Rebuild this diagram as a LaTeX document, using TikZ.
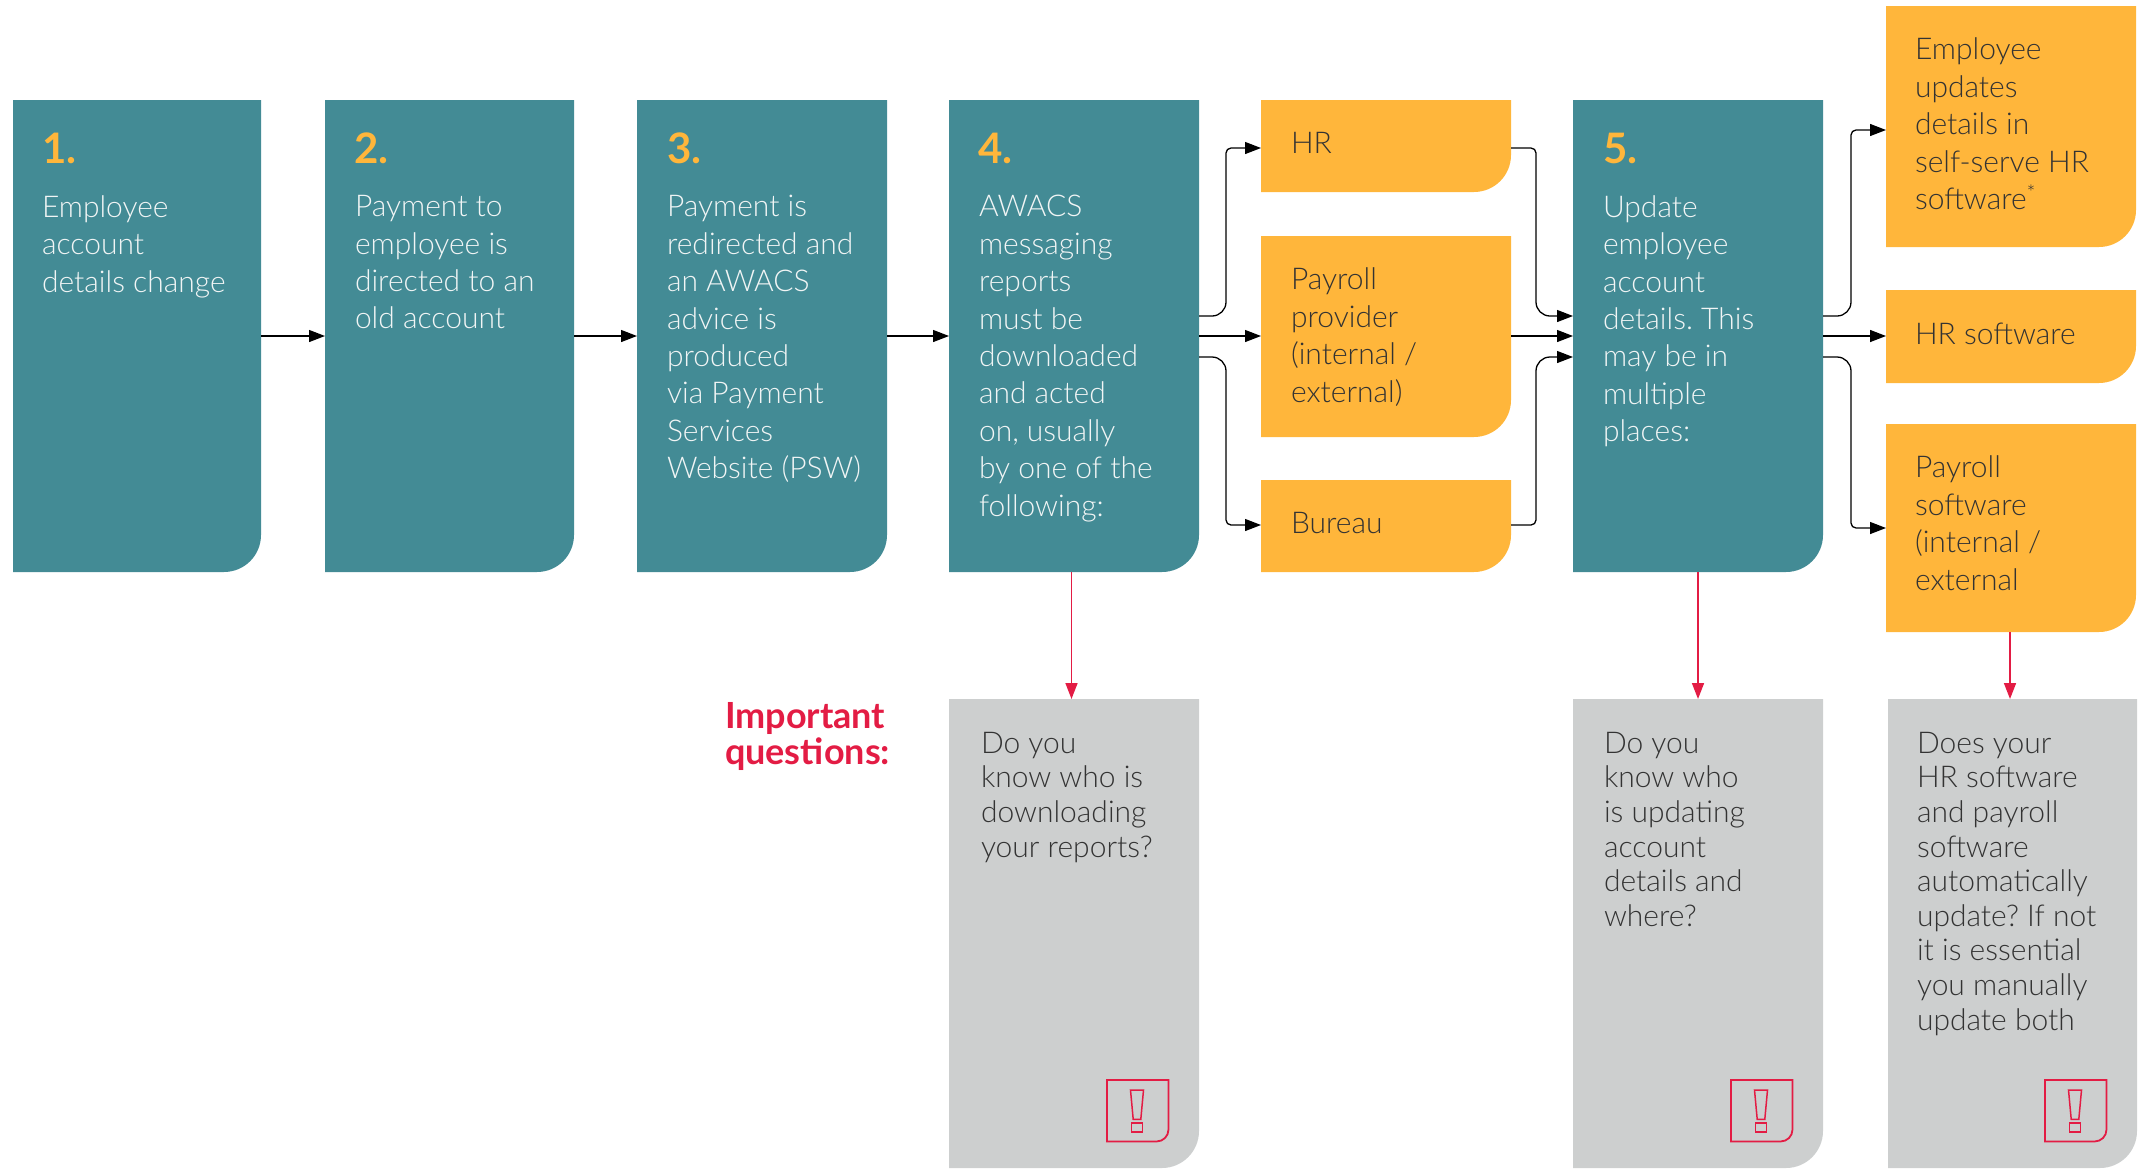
\documentclass[tikz,border=0pt]{standalone}
\usepackage{fontspec}
\setmainfont{Lato}[UprightFont=* Light,BoldFont=* Bold]
\usetikzlibrary{arrows.meta}
\definecolor{teal1}{HTML}{438B95}
\definecolor{orange1}{HTML}{FFB63B}
\definecolor{grey1}{HTML}{CDCFCF}
\definecolor{red1}{HTML}{E31C44}
\definecolor{ink}{HTML}{333333}
\definecolor{pale}{HTML}{F1F5F5}
\tikzset{
 x=1pt,y=1pt,
 anch/.style={inner sep=0,outer sep=0,anchor=north west},
 txt/.style={inner sep=0,outer sep=0,anchor=north west,align=left,font=\frenchspacing\fontsize{30}{37.4}\selectfont},
 ttxt/.style={txt,text=pale},
 otxt/.style={txt,text=ink},
 gtxt/.style={inner sep=0,outer sep=0,anchor=north west,align=left,text=ink,font=\frenchspacing\fontsize{30}{34.6}\selectfont},
 num/.style={inner sep=0,outer sep=0,anchor=north west,text=orange1,font=\fontsize{42}{42}\bfseries\selectfont},
 conn/.style={black,line width=1.3pt,-{Triangle[length=16pt,width=12pt]}},
 redconn/.style={red1,line width=1.6pt,-{Triangle[length=16pt,width=12pt]}},
 iconline/.style={red1,line width=1.8pt},
 iconmark/.style={red1,line width=1.5pt},
}
\newcommand{\rbox}[6]{%
 \node[anch,minimum width={(#4-#2)*1pt},minimum height={(#5-#3)*1pt}] (#1) at (#2,-#3) {};
 \fill[#6] (#1.north west) -- (#1.north east) -- ([yshift=37pt]#1.south east)
   arc[start angle=0,end angle=-90,radius=37pt] -- (#1.south west) -- cycle;
}
\newcommand{\warnicon}[1]{%
 \begin{scope}[shift={(#1.south east)},xshift=-93pt,yshift=26pt]
 \draw[iconline] (1,62) -- (62.5,62) -- (62.5,12.5) arc[start angle=0,end angle=-90,radius=12] -- (1,0.5) -- cycle;
 \draw[iconmark] (24.5,52) -- (37.5,52) -- (34.8,22.7) -- (27.2,22.7) -- cycle;
 \draw[iconmark] (25.5,10) rectangle (36.5,19.2);
 \end{scope}
}
\begin{document}
\begin{tikzpicture}
\useasboundingbox (0,0) rectangle (2145,-1168);
\rbox{tA}{13}{100}{261}{572}{teal1}
\rbox{tB}{325}{100}{574}{572}{teal1}
\rbox{tC}{637}{100}{887}{572}{teal1}
\rbox{tD}{949}{100}{1199}{572}{teal1}
\rbox{tE}{1573}{100}{1823}{572}{teal1}
\rbox{oHR}{1261}{100}{1511}{192}{orange1}
\rbox{oPP}{1261}{236}{1511}{437}{orange1}
\rbox{oBU}{1261}{480}{1511}{572}{orange1}
\rbox{oEM}{1886}{6}{2136}{247}{orange1}
\rbox{oHS}{1886}{290}{2136}{383}{orange1}
\rbox{oPS}{1886}{424}{2136}{632}{orange1}
\rbox{gA}{949}{699}{1199}{1168}{grey1}
\rbox{gB}{1573}{699}{1823}{1168}{grey1}
\rbox{gC}{1888}{699}{2137}{1168}{grey1}
% numbers
\node[num] (nA) at (42,-133) {1.};
\node[num] (nB) at (354,-133) {2.};
\node[num] (nC) at (667,-133) {3.};
\node[num] (nD) at (978,-133) {4.};
\node[num] (nE) at (1603,-133) {5.};
% teal text
\node[ttxt] (xA) at (42,-195.5) {Employee\\account\\details change};
\node[ttxt] (xB) at (355,-195.5) {Payment to\\employee is\\directed to an\\old account};
\node[ttxt] (xC) at (667,-195.5) {Payment is\\redirected and\\an AWACS\\advice is\\produced\\via Payment\\Services\\Website (PSW)};
\node[ttxt] (xD) at (979,-195.5) {AWACS\\messaging\\reports\\must be\\downloaded\\and acted\\on, usually\\by one of the\\following:};
\node[ttxt] (xE) at (1603,-195.5) {Update\\employee\\account\\details. This\\may be in\\multiple\\places:};
% orange text
\node[otxt] (yHR) at (1291,-132.5) {HR};
\node[otxt] (yPP) at (1291,-268) {Payroll\\provider\\(internal /\\external)};
\node[otxt] (yBU) at (1291,-512.5) {Bureau};
\node[otxt] (yEM) at (1915,-38) {Employee\\updates\\details in\\self-serve HR\\software\textsuperscript{*}};
\node[otxt] (yHS) at (1915,-322.5) {HR software};
\node[otxt] (yPS) at (1915,-456) {Payroll\\software\\(internal /\\external};
% grey text
\node[gtxt] (zA) at (981,-732) {Do you\\know who is\\downloading\\your reports?};
\node[gtxt] (zB) at (1604,-732) {Do you\\know who\\is updating\\account\\details and\\where?};
\node[gtxt] (zC) at (1917,-732) {Does your\\HR software\\and payroll\\software\\automatically\\update? If not\\it is essential\\you manually\\update both};
\node[inner sep=0,outer sep=0,anchor=north west,align=left,text=red1,font=\fontsize{36}{36}\bfseries\selectfont] (iq) at (725,-702) {Important\\questions:};
\warnicon{gA}
\warnicon{gB}
\warnicon{gC}
% free ends on the box sides
\coordinate (dU) at (1199,-316); \coordinate (dM) at (1199,-336); \coordinate (dL) at (1199,-357);
\coordinate (eU) at (1573,-316); \coordinate (eM) at (1573,-336); \coordinate (eL) at (1573,-357);
\coordinate (fU) at (1823,-316); \coordinate (fM) at (1823,-336); \coordinate (fL) at (1823,-357);
\coordinate (hrL) at (1261,-148); \coordinate (hrR) at (1511,-148);
\coordinate (ppL) at (1261,-336); \coordinate (ppR) at (1511,-336);
\coordinate (buL) at (1261,-525); \coordinate (buR) at (1511,-525);
\coordinate (emL) at (1886,-130); \coordinate (hsL) at (1886,-336); \coordinate (psL) at (1886,-528);
\coordinate (aM) at (261,-336); \coordinate (bL) at (325,-336); \coordinate (bM) at (574,-336);
\coordinate (cL) at (637,-336); \coordinate (cM) at (887,-336); \coordinate (dI) at (949,-336);
% straight arrows
\draw[conn] (aM) -- (bL);
\draw[conn] (bM) -- (cL);
\draw[conn] (cM) -- (dI);
\draw[conn] (dM) -- (ppL);
\draw[conn] (ppR) -- (eM);
\draw[conn] (fM) -- (hsL);
% elbows
\draw[conn,rounded corners=14pt] (dU) -- (1226,-316) [rounded corners=5pt] -- (1226,-148) -- (hrL);
\draw[conn,rounded corners=14pt] (dL) -- (1226,-357) [rounded corners=5pt] -- (1226,-525) -- (buL);
\draw[conn,rounded corners=5pt] (hrR) -- (1536,-148) [rounded corners=14pt] -- (1536,-316) -- (eU);
\draw[conn,rounded corners=5pt] (buR) -- (1536,-525) [rounded corners=14pt] -- (1536,-357) -- (eL);
\draw[conn,rounded corners=14pt] (fU) -- (1851,-316) [rounded corners=5pt] -- (1851,-130) -- (emL);
\draw[conn,rounded corners=14pt] (fL) -- (1851,-357) [rounded corners=5pt] -- (1851,-528) -- (psL);
% red arrows
\draw[redconn] ([xshift=-2.5pt]tD.south) -- ([xshift=-2.5pt]gA.north);
\draw[redconn] (tE.south) -- (gB.north);
\draw[redconn] ([xshift=-1pt]oPS.south) -- ([xshift=-2.5pt]gC.north);
\end{tikzpicture}
\end{document}
